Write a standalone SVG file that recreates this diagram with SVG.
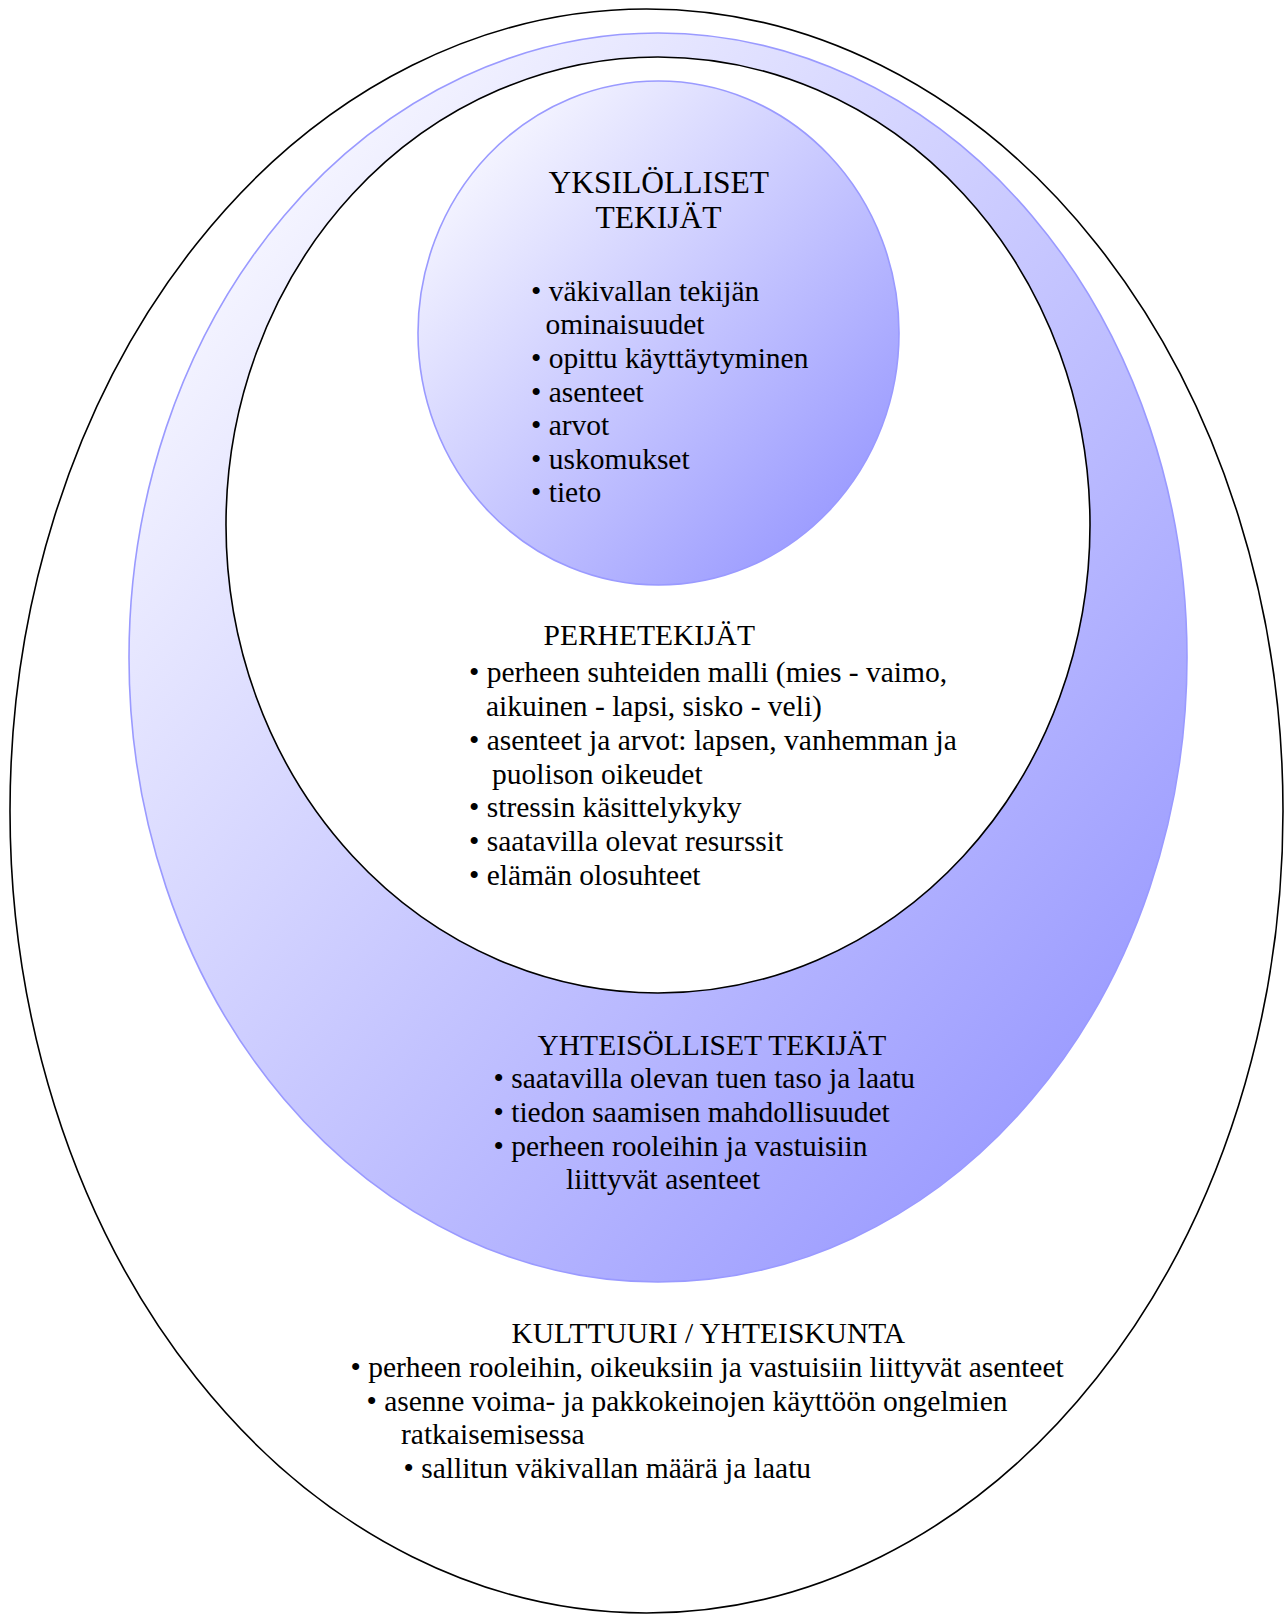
<svg xmlns="http://www.w3.org/2000/svg" width="1287" height="1614" viewBox="0 0 1287 1614">
  <defs>
    <linearGradient id="purple" x1="0" y1="0" x2="1" y2="1">
      <stop offset="0.05" stop-color="#ffffff"/>
      <stop offset="1" stop-color="#8c8cff"/>
    </linearGradient>
  </defs>
  <style>
    .white { fill: #ffffff; stroke: #000000; stroke-width: 1.6; }
    .grad { fill: url(#purple); stroke: #9a9aff; stroke-width: 1.6; }
    text { font-family: "Liberation Serif", "Times New Roman", serif; font-size: 29.5px; fill: #000000; }
    .big { font-size: 31.5px; }
  </style>

  <g id="kulttuuri">
    <ellipse class="white" cx="646.5" cy="811" rx="636.5" ry="802"/>
    <text x="511.5" y="1343">KULTTUURI / YHTEISKUNTA</text>
    <text x="350.5" y="1377">• perheen rooleihin, oikeuksiin ja vastuisiin liittyvät asenteet</text>
    <text x="366.5" y="1410.5">• asenne voima- ja pakkokeinojen käyttöön ongelmien</text>
    <text x="401" y="1444">ratkaisemisessa</text>
    <text x="403.5" y="1478">• sallitun väkivallan määrä ja laatu</text>
  </g>

  <g id="yhteisolliset">
    <ellipse class="grad" cx="658" cy="657.5" rx="529" ry="624.5"/>
    <text x="537.5" y="1055">YHTEISÖLLISET TEKIJÄT</text>
    <text x="493.5" y="1088">• saatavilla olevan tuen taso ja laatu</text>
    <text x="493.5" y="1122">• tiedon saamisen mahdollisuudet</text>
    <text x="493.5" y="1156">• perheen rooleihin ja vastuisiin</text>
    <text x="566" y="1189">liittyvät asenteet</text>
  </g>

  <g id="perhetekijat">
    <ellipse class="white" cx="658" cy="525" rx="432" ry="468"/>
    <text x="543.5" y="645">PERHETEKIJÄT</text>
    <text x="469" y="682">• perheen suhteiden malli (mies - vaimo,</text>
    <text x="486" y="716">aikuinen - lapsi, sisko - veli)</text>
    <text x="469" y="750">• asenteet ja arvot: lapsen, vanhemman ja</text>
    <text x="492" y="783.5">puolison oikeudet</text>
    <text x="469" y="817">• stressin käsittelykyky</text>
    <text x="469" y="850.5">• saatavilla olevat resurssit</text>
    <text x="469" y="884.5">• elämän olosuhteet</text>
  </g>

  <g id="yksilolliset">
    <ellipse class="grad" cx="658.5" cy="333" rx="240.5" ry="252"/>
    <text class="big" x="548.5" y="193">YKSILÖLLISET</text>
    <text class="big" x="595.5" y="228">TEKIJÄT</text>
    <text x="531" y="301">• väkivallan tekijän</text>
    <text x="545.5" y="334">ominaisuudet</text>
    <text x="531" y="368">• opittu käyttäytyminen</text>
    <text x="531" y="401.5">• asenteet</text>
    <text x="531" y="435">• arvot</text>
    <text x="531" y="468.5">• uskomukset</text>
    <text x="531" y="502">• tieto</text>
  </g>
</svg>
